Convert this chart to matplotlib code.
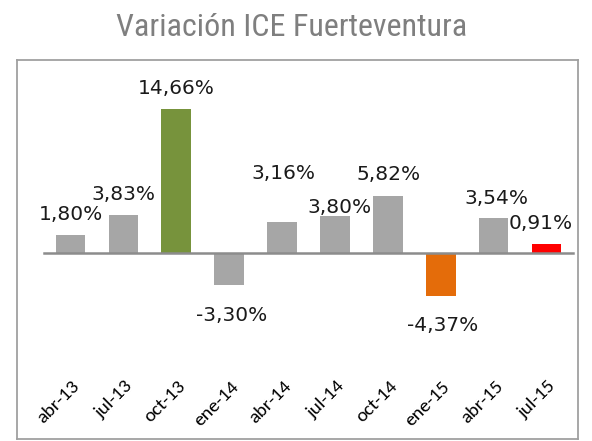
import matplotlib
matplotlib.use("Agg")
import matplotlib.pyplot as plt
import matplotlib.transforms as mtransforms

categories = ["abr-13", "jul-13", "oct-13", "ene-14", "abr-14", "jul-14",
              "oct-14", "ene-15", "abr-15", "jul-15"]
values = [1.80, 3.83, 14.66, -3.30, 3.16, 3.80, 5.82, -4.37, 3.54, 0.91]
value_labels = ["1,80%", "3,83%", "14,66%", "-3,30%", "3,16%", "3,80%",
                "5,82%", "-4,37%", "3,54%", "0,91%"]
colors = ["#a6a6a6", "#a6a6a6", "#77933c", "#a6a6a6", "#a6a6a6", "#a6a6a6",
          "#a6a6a6", "#e46c0a", "#a6a6a6", "#ff0000"]
# label centre positions (layout), in data units
label_dx = [0.01, 0.0, 0.0, 0.05, 0.02, 0.085, 0.02, 0.04, 0.06, -0.11]
label_y = [3.88, 5.92, 16.79, -6.33, 8.16, 4.59, 7.96, -7.35, 5.51, 2.96]

W, H = 592, 441
fig = plt.figure(figsize=(W / 100, H / 100), dpi=100)
fig.patch.set_facecolor("white")

# axes = bordered chart area
left, right, top, bottom = 17, 578, 60, 439
ax = fig.add_axes([left / W, 1 - bottom / H, (right - left) / W, (bottom - top) / H])
ax.set_xlim(-1.011, 9.594)
ax.set_ylim(-18.98, 19.69)
for s in ax.spines.values():
    s.set_color("#a0a0a0")
    s.set_linewidth(1.3)
ax.set_xticks([])
ax.set_yticks([])

x = list(range(len(categories)))
ax.bar(x, values, width=0.56, color=colors, zorder=2)
ax.plot([-0.5, 9.5], [0, 0], color="#8c8c8c", linewidth=1.8, zorder=3)

for i in x:
    ax.text(i + label_dx[i], label_y[i], value_labels[i], ha="center", va="center",
            fontsize=14.5, family="DejaVu Sans", color="#1a1a1a", zorder=4)

trans = mtransforms.blended_transform_factory(ax.transData, ax.transAxes)
ylab = (bottom - 378) / (bottom - top)
for i, c in enumerate(categories):
    ax.text(i + 0.02, ylab, c, transform=trans, rotation=45, rotation_mode="anchor",
            ha="right", va="top", fontsize=14, family=["Carlito", "DejaVu Sans"],
            color="#000000")

fig.text(292 / W, 1 - 36 / H, "Variación ICE Fuerteventura", ha="center", va="baseline",
         fontsize=23, family=["Roboto Condensed", "Archivo Narrow", "DejaVu Sans"],
         color="#7f7f7f")

fig.savefig("out.png", dpi=100, facecolor="white")
